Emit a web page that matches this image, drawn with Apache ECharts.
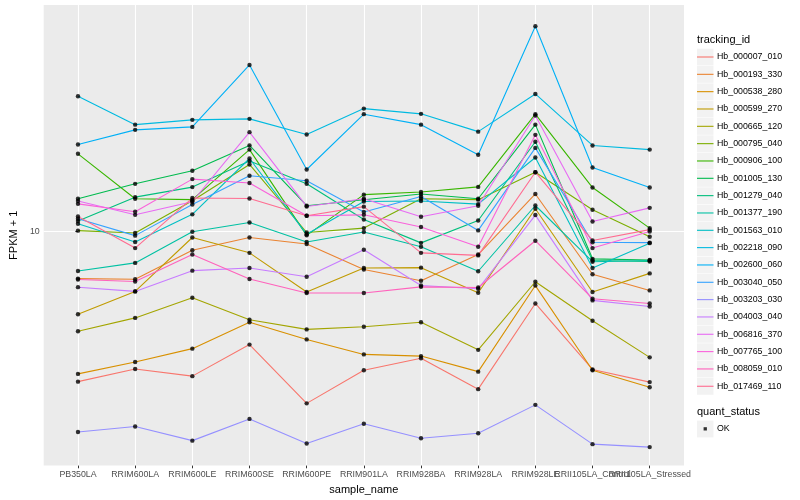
<!DOCTYPE html>
<html><head><meta charset="utf-8">
<script src="https://cdn.jsdelivr.net/npm/echarts@6/dist/echarts.min.js"></script>
<style>html,body{margin:0;padding:0;background:#fff}#c{width:800px;height:500px}</style>
</head><body><div id="c"></div>
<script>
const categories = ['PB350LA','RRIM600LA','RRIM600LE','RRIM600SE','RRIM600PE','RRIM901LA','RRIM928BA','RRIM928LA','RRIM928LE','RRII105LA_Control','RRII105LA_Stressed'];
const trackingIds = ['Hb_000007_010','Hb_000193_330','Hb_000538_280','Hb_000599_270','Hb_000665_120','Hb_000795_040','Hb_000906_100','Hb_001005_130','Hb_001279_040','Hb_001377_190','Hb_001563_010','Hb_002218_090','Hb_002600_060','Hb_003040_050','Hb_003203_030','Hb_004003_040','Hb_006816_370','Hb_007765_100','Hb_008059_010','Hb_017469_110'];
const yTicks = [10];

// FPKM + 1 values per gene, one per sample
const Hb_000007_010 = [5.62, 5.90, 5.74, 6.48, 5.17, 5.87, 6.15, 5.46, 7.59, 5.89, 5.61];
const Hb_000193_330 = [8.35, 8.33, 9.31, 9.78, 9.54, 8.65, 8.28, 9.16, 11.56, 8.49, 7.98];
const Hb_000538_280 = [5.79, 6.06, 6.38, 7.06, 6.61, 6.24, 6.20, 5.84, 8.13, 5.87, 5.50];
const Hb_000599_270 = [7.28, 7.95, 9.78, 9.22, 7.93, 8.70, 8.71, 7.91, 10.92, 7.93, 8.52];
const Hb_000665_120 = [6.82, 7.18, 7.76, 7.13, 6.87, 6.94, 7.06, 6.35, 8.25, 7.10, 6.17];
const Hb_000795_040 = [10.04, 9.95, 11.26, 12.95, 9.97, 10.14, 11.35, 11.31, 12.57, 10.88, 9.81];
const Hb_000906_100 = [13.49, 11.35, 11.31, 13.71, 9.86, 11.53, 11.65, 11.88, 15.71, 11.85, 10.14];
const Hb_001005_130 = [11.35, 12.02, 12.64, 13.93, 11.05, 11.31, 11.56, 11.35, 15.09, 9.01, 8.97];
const Hb_001279_040 = [10.42, 11.42, 11.87, 13.12, 12.02, 10.48, 9.58, 10.44, 14.13, 8.95, 8.92];
const Hb_001377_190 = [8.60, 8.87, 10.00, 10.36, 9.61, 9.99, 9.44, 8.59, 11.06, 8.91, 8.95];
const Hb_001563_010 = [10.31, 9.61, 10.69, 13.25, 9.90, 11.23, 11.25, 11.12, 13.30, 8.70, 9.57];
const Hb_002218_090 = [16.83, 15.09, 15.37, 15.43, 14.53, 16.05, 15.73, 14.69, 16.98, 13.93, 13.71];
const Hb_002600_060 = [13.98, 14.79, 14.96, 18.98, 12.70, 15.71, 15.09, 13.44, 22.02, 12.80, 11.85];
const Hb_003040_050 = [10.51, 9.85, 11.10, 12.40, 12.16, 10.79, 11.45, 10.05, 13.80, 9.60, 9.59];
const Hb_003203_030 = [4.63, 4.73, 4.48, 4.87, 4.43, 4.78, 4.52, 4.61, 5.14, 4.42, 4.37];
const Hb_004003_040 = [8.08, 7.95, 8.61, 8.70, 8.41, 9.33, 8.13, 8.03, 10.66, 7.68, 7.50];
const Hb_006816_370 = [11.25, 10.67, 11.22, 14.66, 11.02, 11.35, 10.59, 11.05, 15.63, 10.40, 10.96];
const Hb_007765_100 = [11.13, 10.80, 12.24, 12.06, 10.63, 10.67, 10.18, 9.44, 14.51, 9.39, 10.01];
const Hb_008059_010 = [8.32, 8.26, 9.16, 8.34, 7.90, 7.90, 8.09, 8.07, 9.66, 7.73, 7.59];
const Hb_017469_110 = [10.60, 9.39, 11.38, 11.36, 10.63, 11.01, 9.22, 9.13, 12.57, 9.67, 10.08];

const seriesValues = [Hb_000007_010, Hb_000193_330, Hb_000538_280, Hb_000599_270, Hb_000665_120, Hb_000795_040, Hb_000906_100, Hb_001005_130, Hb_001279_040, Hb_001377_190, Hb_001563_010, Hb_002218_090, Hb_002600_060, Hb_003040_050, Hb_003203_030, Hb_004003_040, Hb_006816_370, Hb_007765_100, Hb_008059_010, Hb_017469_110];

const colors = ['#F8766D','#EA8331','#D89000','#C09B00','#A3A500','#7CAE00','#39B600','#00BB4E','#00BF7D','#00C1A3','#00BFC4','#00BAE0','#00B0F6','#35A2FF','#9590FF','#C77CFF','#E76BF3','#FA62DB','#FF62BC','#FF6C91'];
const FONT = '"Liberation Sans", Arial, Helvetica, sans-serif';
const idx = categories.map((c, i) => i);
// labels split over two axes so that the overlapping neighbours are both kept, as in the original
const labelsA = idx.filter(i => i % 2 === 0);
const labelsB = idx.filter(i => i % 2 === 1);

const lineSeries = trackingIds.map((id, s) => ({
  name: id, type: 'line', symbol: 'none', silent: true,
  data: seriesValues[s].map((v, i) => [i, v]),
  lineStyle: { color: colors[s], width: 1.1 }, itemStyle: { color: colors[s] },
  z: 2
}));
const pointData = [];
seriesValues.forEach(vals => vals.forEach((v, i) => pointData.push([i, v])));

const legendTop = 48.5, legendStep = 17.33;
const keyRects = trackingIds.map((id, i) => ({
  type: 'rect', shape: { x: 697, y: legendTop + i * legendStep + 0.2, width: 16.5, height: 16.8 },
  style: { fill: '#F2F2F2' }, z: 0, silent: true
}));
keyRects.push({ type: 'rect', shape: { x: 697, y: 420.6, width: 16.5, height: 16.8 }, style: { fill: '#F2F2F2' }, z: 0, silent: true });

const lineIcon = 'path://M0,0L0,0M16.5,17L16.5,17M0,7.95h16.5v1.1h-16.5z';
const dotIcon = 'path://M0,0L0,0M16,16L16,16M6.4,6.4h3.2v3.2h-3.2z';

const labelStyle = { fontSize: 8.8, color: '#4D4D4D', margin: 4.5, hideOverlap: false, showMinLabel: true, showMaxLabel: true, fontFamily: FONT, formatter: v => categories[Math.round(v)] };

const chart = echarts.init(document.getElementById('c'), null, { renderer: 'canvas' });
chart.setOption({
  animation: false,
  backgroundColor: '#ffffff',
  textStyle: { fontFamily: FONT },
  grid: { left: 34.5, right: 116, top: 5, bottom: 34, show: true, backgroundColor: '#EBEBEB', borderWidth: 0 },
  xAxis: [{
    type: 'value', min: -0.6, max: 10.6, position: 'bottom',
    name: 'sample_name', nameLocation: 'middle', nameGap: 17,
    nameTextStyle: { fontSize: 11, color: '#000', fontFamily: FONT },
    axisLine: { show: false },
    axisTick: { show: true, customValues: idx, length: 2.7, lineStyle: { color: '#333333', width: 1 } },
    axisLabel: Object.assign({ customValues: labelsA }, labelStyle),
    splitLine: { show: true, lineStyle: { color: '#ffffff', width: 1.1 } }
  }, {
    type: 'value', min: -0.6, max: 10.6, position: 'bottom', offset: 0,
    axisLine: { show: false },
    axisTick: { show: false },
    axisLabel: Object.assign({ customValues: labelsB }, labelStyle),
    splitLine: { show: false }
  }],
  yAxis: {
    type: 'log', logBase: 10, min: 4.07, max: 23.9,
    name: 'FPKM + 1', nameLocation: 'middle', nameGap: 17,
    nameTextStyle: { fontSize: 11, color: '#000', fontFamily: FONT },
    axisLine: { show: false },
    axisTick: { show: true, customValues: yTicks, length: 2.7, lineStyle: { color: '#333333', width: 1 } },
    axisLabel: { customValues: yTicks, fontSize: 8.8, color: '#4D4D4D', margin: 4, fontFamily: FONT },
    splitLine: { show: true, lineStyle: { color: '#ffffff', width: 1.1 } }
  },
  legend: [{
    data: trackingIds.map(id => ({ name: id, icon: lineIcon })), orient: 'vertical', left: 697, top: legendTop, padding: 0,
    itemWidth: 16.5, itemHeight: 17, itemGap: legendStep - 17,
    textStyle: { fontSize: 8.8, color: '#000', fontFamily: FONT, padding: [0, 0, 0, -1.5] }, selectedMode: false
  }, {
    data: [{ name: 'OK', icon: dotIcon }], orient: 'vertical', left: 697, top: 420.6, padding: 0,
    itemWidth: 16.5, itemHeight: 17,
    textStyle: { fontSize: 8.8, color: '#000', fontFamily: FONT, padding: [0, 0, 0, -1.5] }, selectedMode: false
  }],
  graphic: keyRects.concat([
    { type: 'text', left: 697, top: 34, style: { text: 'tracking_id', fontSize: 11, fill: '#000', fontFamily: FONT }, z: 1 },
    { type: 'text', left: 697, top: 406, style: { text: 'quant_status', fontSize: 11, fill: '#000', fontFamily: FONT }, z: 1 }
  ]),
  series: lineSeries.concat([{
    name: 'OK', type: 'scatter', data: pointData, symbol: 'circle', symbolSize: 4.4,
    itemStyle: { color: '#000000' }, z: 5, silent: true
  }])
});
</script>
</body></html>
